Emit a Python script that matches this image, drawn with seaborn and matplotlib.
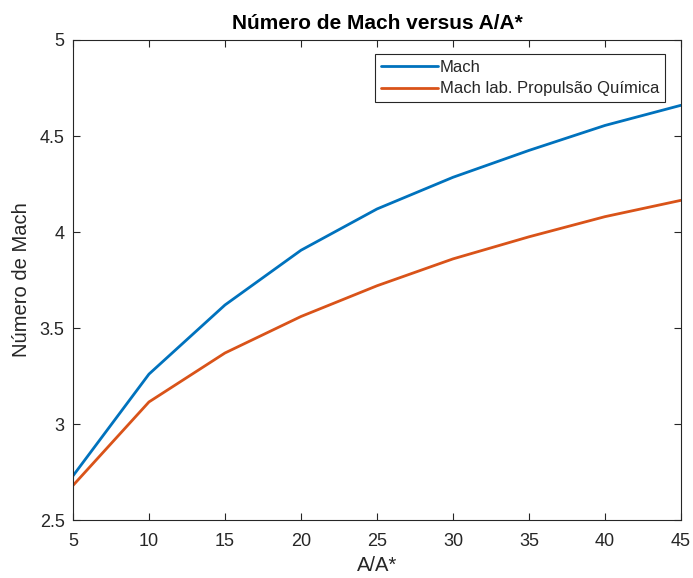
import matplotlib
matplotlib.use("Agg")
import matplotlib.pyplot as plt
import seaborn as sns
import pandas as pd

# Area ratio A/A* and the corresponding Mach numbers
area_ratio = [5, 10, 15, 20, 25, 30, 35, 40, 45]
mach = [2.73, 3.26, 3.62, 3.905, 4.12, 4.285, 4.425, 4.555, 4.66]
mach_lab = [2.68, 3.115, 3.37, 3.56, 3.72, 3.86, 3.975, 4.08, 4.165]
series_names = ["Mach", "Mach lab. Propulsão Química"]

df = pd.concat([
    pd.DataFrame({"A/A*": area_ratio, "M": mach, "serie": series_names[0]}),
    pd.DataFrame({"A/A*": area_ratio, "M": mach_lab, "serie": series_names[1]}),
])

sns.set_theme(style="white")
plt.rcParams["font.family"] = ["Liberation Sans", "DejaVu Sans"]
ink = "#262626"

fig = plt.figure(figsize=(6.93, 5.78), dpi=100)
ax = fig.add_axes([0.1053, 0.1003, 0.8774, 0.8305])

sns.lineplot(data=df, x="A/A*", y="M", hue="serie",
             palette=["#0072BD", "#D95319"], linewidth=2.0, ax=ax)

ax.set_xlim(5, 45)
ax.set_ylim(2.5, 5)
ax.set_xticks(range(5, 50, 5))
ax.set_yticks([2.5, 3, 3.5, 4, 4.5, 5])
ax.set_yticklabels(["2.5", "3", "3.5", "4", "4.5", "5"])

for s in ax.spines.values():
    s.set_visible(True)
    s.set_color(ink)
    s.set_linewidth(0.8)
ax.tick_params(direction="in", length=5, width=0.8, colors=ink,
               labelsize=13, top=True, right=True, bottom=True, left=True)
ax.tick_params(axis="x", pad=9)
ax.tick_params(axis="y", pad=6)

ax.set_xlabel("A/A*", fontsize=14.5, color=ink, labelpad=5)
ax.set_ylabel("Número de Mach", fontsize=14.5, color=ink, labelpad=6)
ax.set_title("Número de Mach versus A/A*", fontsize=15, fontweight="bold",
             color="black", pad=8)

leg = ax.legend(loc="upper right", bbox_to_anchor=(0.974, 0.971), fontsize=12,
                frameon=True, fancybox=False, framealpha=1, edgecolor=ink,
                handlelength=3.4, handletextpad=0.12, borderpad=0.35,
                labelspacing=0.4, borderaxespad=0)
leg.get_frame().set_linewidth(0.8)
for t in leg.get_texts():
    t.set_color(ink)

fig.savefig("out.png", dpi=100)
